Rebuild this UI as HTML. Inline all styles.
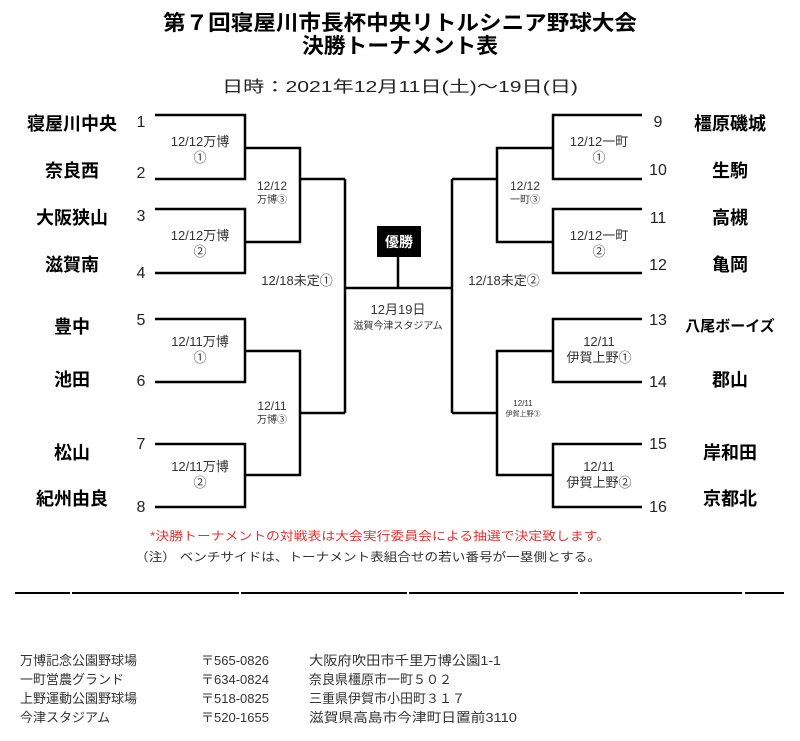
<!DOCTYPE html>
<html><head><meta charset="utf-8"><style>
html,body{margin:0;padding:0;background:#fff;}
svg{display:block;}
text{font-family:"Liberation Sans","Noto Sans CJK JP",sans-serif;}
.b{font-weight:bold;fill:#000;}
.n{font-size:16px;fill:#222;}
</style></head><body>
<svg width="800" height="741" viewBox="0 0 800 741" xmlns="http://www.w3.org/2000/svg">
<text x="400" y="30" text-anchor="middle" class="b" font-size="21" textLength="474" lengthAdjust="spacingAndGlyphs">第７回寝屋川市長杯中央リトルシニア野球大会</text>
<text x="400" y="53" text-anchor="middle" class="b" font-size="21" textLength="196" lengthAdjust="spacingAndGlyphs">決勝トーナメント表</text>
<text x="400" y="92" text-anchor="middle" font-size="16" fill="#222" textLength="356" lengthAdjust="spacingAndGlyphs">日時：2021年12月11日(土)～19日(日)</text>

<g stroke="#000" stroke-width="2.5" fill="none">
<polyline points="155,115 245,115 245,179 155,179"/>
<polyline points="155,209 245,209 245,273 155,273"/>
<polyline points="245,148 300,148 300,242 245,242"/>
<line x1="300" y1="179" x2="345" y2="179"/>
<polyline points="155,319 245,319 245,382 155,382"/>
<polyline points="155,444 245,444 245,507 155,507"/>
<polyline points="245,351 300,351 300,475 245,475"/>
<line x1="300" y1="413" x2="345" y2="413"/>
<line x1="345" y1="179" x2="345" y2="413"/>
<line x1="345" y1="288" x2="452" y2="288"/>
<line x1="398" y1="288" x2="398" y2="257"/>
<polyline points="642,115 553,115 553,179 642,179"/>
<polyline points="642,209 553,209 553,273 642,273"/>
<polyline points="553,148 497,148 497,242 553,242"/>
<line x1="497" y1="179" x2="452" y2="179"/>
<polyline points="642,319 553,319 553,382 642,382"/>
<polyline points="642,444 553,444 553,507 642,507"/>
<polyline points="553,351 497,351 497,475 553,475"/>
<line x1="497" y1="413" x2="452" y2="413"/>
<line x1="452" y1="179" x2="452" y2="413"/>
</g>
<rect x="377" y="226" width="44" height="31" fill="#000"/>
<text x="399" y="247" text-anchor="middle" font-size="14" font-weight="bold" fill="#fff">優勝</text>

<g class="b" font-size="18" text-anchor="middle">
<text x="72" y="130">寝屋川中央</text>
<text x="72" y="177">奈良西</text>
<text x="72" y="224">大阪狭山</text>
<text x="72" y="271">滋賀南</text>
<text x="72" y="333">豊中</text>
<text x="72" y="386">池田</text>
<text x="72" y="459">松山</text>
<text x="72" y="505">紀州由良</text>
<text x="730" y="130">橿原磯城</text>
<text x="730" y="177">生駒</text>
<text x="730" y="224">高槻</text>
<text x="730" y="271">亀岡</text>
<text x="730" y="331" font-size="15">八尾ボーイズ</text>
<text x="730" y="386">郡山</text>
<text x="730" y="459">岸和田</text>
<text x="730" y="505">京都北</text>
</g>
<g class="n" text-anchor="middle">
<text x="141" y="127">1</text><text x="141" y="178">2</text>
<text x="141" y="221">3</text><text x="141" y="278">4</text>
<text x="141" y="325">5</text><text x="141" y="386">6</text>
<text x="141" y="449">7</text><text x="141" y="512">8</text>
<text x="658" y="127">9</text><text x="658" y="175">10</text>
<text x="658" y="223">11</text><text x="658" y="270">12</text>
<text x="658" y="325">13</text><text x="658" y="387">14</text>
<text x="658" y="449">15</text><text x="658" y="512">16</text>
</g>
<g font-size="13" fill="#333" text-anchor="middle">
<text x="200" y="146">12/12万博</text><text x="200" y="162">①</text>
<text x="200" y="240">12/12万博</text><text x="200" y="256">②</text>
<text x="200" y="346">12/11万博</text><text x="200" y="362">①</text>
<text x="200" y="471">12/11万博</text><text x="200" y="487">②</text>
<text x="272" y="190" font-size="12">12/12</text><text x="272" y="203" font-size="10">万博③</text>
<text x="272" y="410" font-size="12">12/11</text><text x="272" y="423" font-size="10">万博③</text>
<text x="297" y="285">12/18未定①</text>
<text x="504" y="285">12/18未定②</text>
<text x="599" y="146">12/12一町</text><text x="599" y="162">①</text>
<text x="599" y="240">12/12一町</text><text x="599" y="256">②</text>
<text x="599" y="346">12/11</text><text x="599" y="362">伊賀上野①</text>
<text x="599" y="471">12/11</text><text x="599" y="487">伊賀上野②</text>
<text x="525" y="190" font-size="12">12/12</text><text x="525" y="203" font-size="10">一町③</text>
<text x="523" y="406" font-size="8">12/11</text><text x="523" y="416" font-size="7">伊賀上野③</text>
<text x="398" y="314">12月19日</text>
<text x="398" y="329" font-size="10">滋賀今津スタジアム</text>
</g>
<text x="380" y="540" text-anchor="middle" font-size="12" fill="#e83030" textLength="460" lengthAdjust="spacingAndGlyphs">*決勝トーナメントの対戦表は大会実行委員会による抽選で決定致します。</text>
<text x="368" y="561" text-anchor="middle" font-size="12" fill="#333" textLength="466" lengthAdjust="spacingAndGlyphs">（注） ベンチサイドは、トーナメント表組合せの若い番号が一塁側とする。</text>
<g stroke="#000" stroke-width="2">
<line x1="15" y1="593" x2="70" y2="593"/><line x1="72" y1="593" x2="239" y2="593"/>
<line x1="241" y1="593" x2="407" y2="593"/><line x1="409" y1="593" x2="578" y2="593"/>
<line x1="580" y1="593" x2="742" y2="593"/><line x1="745" y1="593" x2="784" y2="593"/>
</g>
<g font-size="13" fill="#333">
<text x="20" y="665">万博記念公園野球場</text><text x="201" y="665">〒565-0826</text><text x="309" y="665" textLength="192" lengthAdjust="spacingAndGlyphs">大阪府吹田市千里万博公園1-1</text>
<text x="20" y="684">一町営農グランド</text><text x="201" y="684">〒634-0824</text><text x="309" y="684">奈良県橿原市一町５０２</text>
<text x="20" y="703">上野運動公園野球場</text><text x="201" y="703">〒518-0825</text><text x="309" y="703">三重県伊賀市小田町３１７</text>
<text x="20" y="722">今津スタジアム</text><text x="201" y="722">〒520-1655</text><text x="309" y="722" textLength="208" lengthAdjust="spacingAndGlyphs">滋賀県高島市今津町日置前3110</text>
</g>
</svg>
</body></html>
